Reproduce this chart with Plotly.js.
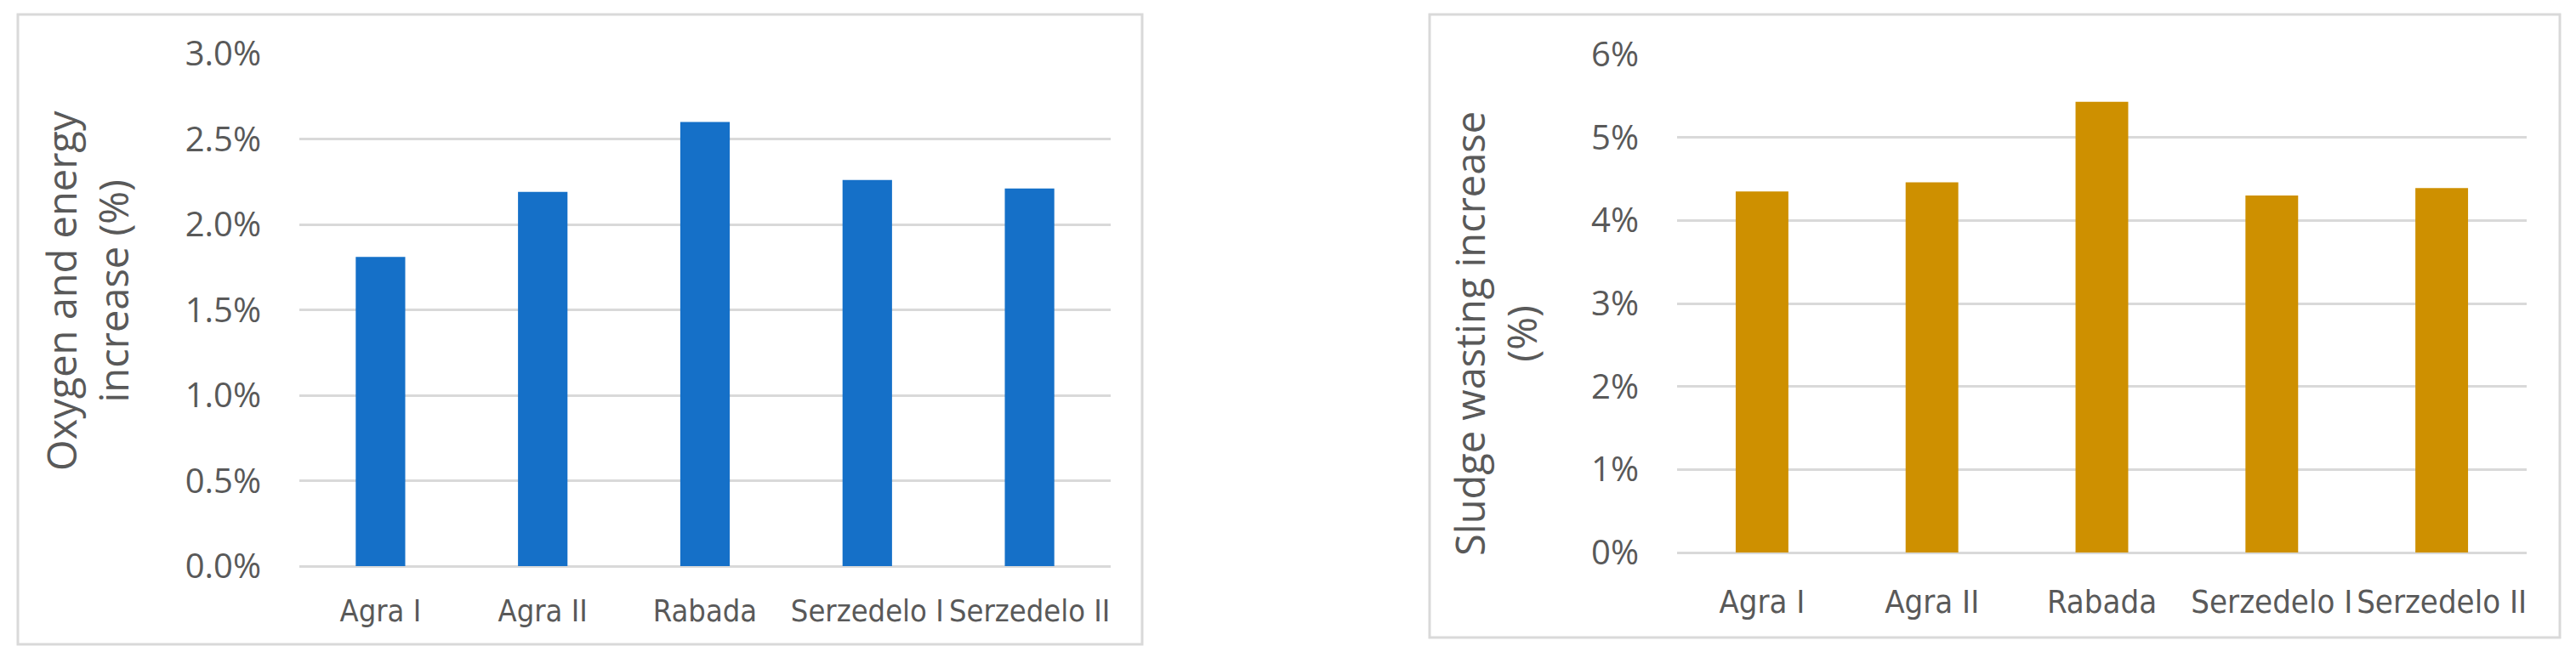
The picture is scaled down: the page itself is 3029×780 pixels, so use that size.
<!DOCTYPE html>
<html>
<head>
<meta charset="utf-8">
<script src="https://cdn.plot.ly/plotly-3.0.1.min.js"></script>
<style>html,body{margin:0;padding:0;background:#fff;}#chart{width:3029px;height:780px;}</style>
</head>
<body>
<div id="chart"></div>
<script>
// ---- data ----
const categories = ["Agra I", "Agra II", "Rabada", "Serzedelo I", "Serzedelo II"];
const oxygenEnergyIncrease = [1.81, 2.19, 2.60, 2.26, 2.21];   // %
const sludgeWastingIncrease = [4.35, 4.46, 5.43, 4.30, 4.39];  // %
const leftTickVals = [0, 0.5, 1.0, 1.5, 2.0, 2.5, 3.0];
const leftTickText = ["0.0%", "0.5%", "1.0%", "1.5%", "2.0%", "2.5%", "3.0%"];
const rightTickVals = [0, 1, 2, 3, 4, 5, 6];
const rightTickText = ["0%", "1%", "2%", "3%", "4%", "5%", "6%"];
const leftTitle = "Oxygen and energy<br>increase (%)";
const rightTitle = "Sludge wasting increase<br>(%)";

// ---- layout helpers (pixel -> paper) ----
const W = 3029, H = 780;
const px = x => x / W;
const py = y => 1 - y / H;

const tickFont = {family: "Open Sans, sans-serif", size: 40, color: "#595959"};
const catFontL = {family: "Liberation Sans Narrow, DejaVu Sans Condensed, Liberation Sans, sans-serif", size: 36, color: "#595959"};
const catFontR = {family: "Liberation Sans Narrow, DejaVu Sans Condensed, Liberation Sans, sans-serif", size: 38, color: "#595959"};
const titleFont = {family: "Open Sans, sans-serif", size: 47, color: "#595959"};
const grid = "#d9d9d9";

const traces = [
  {type: "bar", x: categories, y: oxygenEnergyIncrease, xaxis: "x", yaxis: "y",
   marker: {color: "#1570C8"}, width: 0.305, hoverinfo: "x+y"},
  {type: "bar", x: categories, y: sludgeWastingIncrease, xaxis: "x2", yaxis: "y2",
   marker: {color: "#CE9000"}, width: 0.31, hoverinfo: "x+y"}
];

const yCommon = {showline: false, showgrid: true, gridcolor: grid, gridwidth: 3,
  zeroline: true, zerolinecolor: grid, zerolinewidth: 3, tickfont: tickFont,
  ticks: "", ticklabelstandoff: 44, fixedrange: true, tickmode: "array"};
const xCommon = {showline: false, showgrid: false, zeroline: false, ticks: "",
  type: "category", fixedrange: true};

const layout = {
  width: W, height: H,
  margin: {l: 0, r: 0, t: 0, b: 0},
  paper_bgcolor: "#ffffff", plot_bgcolor: "#ffffff",
  showlegend: false,
  xaxis: Object.assign({}, xCommon, {domain: [px(352), px(1306)], anchor: "y",
    tickfont: catFontL, ticklabelstandoff: 28}),
  yaxis: Object.assign({}, yCommon, {domain: [py(666), py(63)], anchor: "x",
    range: [0, 3.0], tickvals: leftTickVals, ticktext: leftTickText}),
  xaxis2: Object.assign({}, xCommon, {domain: [px(1972), px(2971)], anchor: "y2",
    tickfont: catFontR, ticklabelstandoff: 32}),
  yaxis2: Object.assign({}, yCommon, {domain: [py(650), py(64)], anchor: "x2",
    range: [0, 6], tickvals: rightTickVals, ticktext: rightTickText}),
  shapes: [
    {type: "rect", xref: "paper", yref: "paper", x0: px(21), x1: px(1343), y0: py(758), y1: py(17),
     line: {color: "#d9d9d9", width: 3}, fillcolor: "rgba(0,0,0,0)", layer: "below"},
    {type: "rect", xref: "paper", yref: "paper", x0: px(1681), x1: px(3010), y0: py(750), y1: py(17),
     line: {color: "#d9d9d9", width: 3}, fillcolor: "rgba(0,0,0,0)", layer: "below"}
  ],
  annotations: [
    {text: leftTitle, xref: "paper", yref: "paper", x: px(102), y: py(342),
     xanchor: "center", yanchor: "middle", textangle: -90, showarrow: false,
     font: titleFont, align: "center"},
    {text: rightTitle, xref: "paper", yref: "paper", x: px(1758), y: py(393),
     xanchor: "center", yanchor: "middle", textangle: -90, showarrow: false,
     font: titleFont, align: "center"}
  ]
};

Plotly.newPlot("chart", traces, layout, {displayModeBar: false, staticPlot: true});
</script>
</body>
</html>
